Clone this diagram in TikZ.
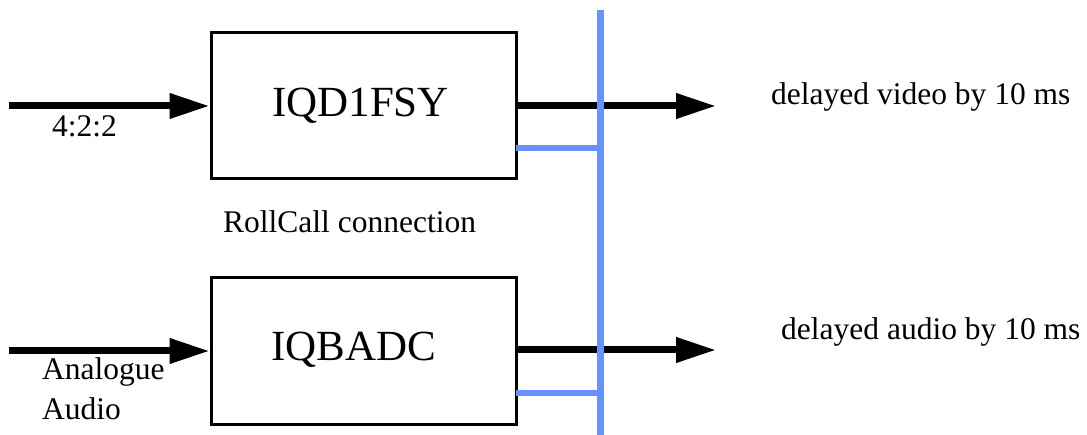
\documentclass[tikz,border=0pt]{standalone}
\usepackage{fontspec}
\setmainfont{Liberation Serif}
\newfontfamily\tnr{Liberation Serif}
\usetikzlibrary{arrows.meta}
\definecolor{busblue}{RGB}{102,145,255}
\tikzset{
  blk/.style={draw=black, line width=3pt, minimum width=305pt, minimum height=146pt, inner sep=0pt},
  sig/.style={line width=7pt, -{Triangle[length=40pt,width=24pt]}},
  bus/.style={draw=busblue, line width=6.5pt},
  big/.style={font=\tnr\fontsize{43}{48}\selectfont, inner sep=0pt},
  small/.style={font=\tnr\fontsize{31.5}{36}\selectfont, inner sep=0pt}
}
\begin{document}
\begin{tikzpicture}[x=1pt,y=-1pt]
\useasboundingbox (0,0) rectangle (1087,435);
% boxes
\node[blk] (b1) at (363.5,106) {};
\node[blk] (b2) at (363.5,351) {};
\node[big, anchor=base] (t1) at (360.5,117) {IQD1FSY};
\node[big, anchor=base] (t2) at (354,361) {IQBADC};
% inputs
\coordinate (in1) at (9,106);
\coordinate (in2) at (9,351);
\draw[sig] (in1) -- (b1.west);
\draw[sig] (in2) -- (b2.west);
\node[small, anchor=base west] (l1) at (52,137) {4:2:2};
\node[small, anchor=base west] (l2) at (42,380) {Analogue};
\node[small, anchor=base west] (l3) at (42,420) {Audio};
% outputs
\coordinate (out1) at (716,106);
\coordinate (out2) at (716,350);
\draw[sig] (b1.east) -- (out1);
\draw[sig] (b2.east |- out2) -- (out2);
\node[small, anchor=base west] (o1) at (771,105) {delayed video by 10 ms};
\node[small, anchor=base west] (o2) at (781,340) {delayed audio by 10 ms};
% RollCall bus
\coordinate (bt) at (600,10);
\coordinate (bb) at (600,435);
\coordinate (h1) at (516,148);
\coordinate (h2) at (516,393);
\draw[bus] (h1) -- (bt |- h1);
\draw[bus] (h2) -- (bt |- h2);
\draw[bus, line width=7pt] (bt) -- (bb);
\node[small, anchor=base west] (rc) at (223,233) {RollCall connection};
\end{tikzpicture}
\end{document}
